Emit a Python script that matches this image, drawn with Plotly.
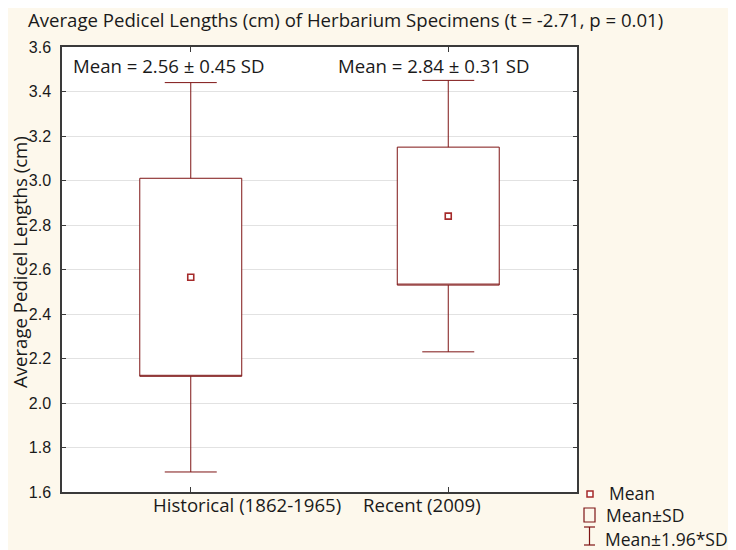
import plotly.graph_objects as go

# ---- data ----
categories = ["Historical (1862-1965)", "Recent (2009)"]
means = [2.565, 2.84]
sd_low = [2.12, 2.53]        # Mean - SD
sd_high = [3.01, 3.15]       # Mean + SD
whisk_low = [1.69, 2.23]     # Mean - 1.96*SD
whisk_high = [3.44, 3.45]    # Mean + 1.96*SD
summary_labels = ["Mean = 2.56 \u00b1 0.45 SD", "Mean = 2.84 \u00b1 0.31 SD"]
y_ticks = [1.6, 1.8, 2.0, 2.2, 2.4, 2.6, 2.8, 3.0, 3.2, 3.4, 3.6]
legend_labels = ["Mean", "Mean\u00b1SD", "Mean\u00b11.96*SD"]

# ---- layout geometry (screen pixels; page body adds an 8px offset) ----
OFF = 8
W, H = 736, 550
L, R, T, B = 62 - OFF, 577 - OFF, 47 - OFF, 492 - OFF
BG = "#FDF8EC"
RED = "#7E1414"
DARK = "#3A3A3A"
TXT_FONT = "'Open Sans', Lato, sans-serif"
TXT_SIZE = 18.6
LEG_SIZE = 17.5


def px(x):
    return (x - OFF - L) / (R - L)


def py(y):
    return (B - (y - OFF)) / (B - T)


fig = go.Figure()

fig.add_trace(go.Box(
    x=categories,
    q1=sd_low,
    median=sd_low,
    q3=sd_high,
    lowerfence=whisk_low,
    upperfence=whisk_high,
    width=0.396,
    whiskerwidth=0.51,
    fillcolor="white",
    line=dict(color=RED, width=1),
    boxpoints=False,
    showlegend=False,
))

fig.add_trace(go.Scatter(
    x=categories,
    y=means,
    mode="markers",
    marker=dict(symbol="square-open", size=6, color="#A52A2A", line=dict(width=1.6)),
    showlegend=False,
))

annotations = []
for lab, cx in zip(summary_labels, [169, 434]):
    annotations.append(dict(
        text=lab, xref="paper", yref="paper", x=px(cx), y=py(65),
        xanchor="center", yanchor="middle", showarrow=False,
        font=dict(family=TXT_FONT, size=TXT_SIZE, color="#1a1a1a")))
for lab, cx in zip(categories, [247, 422]):
    annotations.append(dict(
        text=lab, xref="paper", yref="paper", x=px(cx), y=py(505),
        xanchor="center", yanchor="middle", showarrow=False,
        font=dict(family=TXT_FONT, size=TXT_SIZE, color="#1a1a1a")))
annotations.append(dict(
    text="Average Pedicel Lengths (cm)", xref="paper", yref="paper",
    x=px(20), y=py(262), textangle=-90, xanchor="center", yanchor="middle",
    showarrow=False, font=dict(family=TXT_FONT, size=TXT_SIZE, color="#1a1a1a")))
for lab, (lx, ly) in zip(legend_labels, [(607, 493), (604, 515), (603, 539)]):
    annotations.append(dict(
        text=lab, xref="paper", yref="paper", x=px(lx), y=py(ly),
        xanchor="left", yanchor="middle", showarrow=False,
        font=dict(family=TXT_FONT, size=LEG_SIZE, color="#1a1a1a")))

shapes = [
    dict(type="rect", xref="paper", yref="paper", x0=px(587), x1=px(593), y0=py(491), y1=py(497),
         line=dict(color="#A52A2A", width=1.5), fillcolor="white"),
    dict(type="rect", xref="paper", yref="paper", x0=px(584), x1=px(595), y0=py(508), y1=py(522),
         line=dict(color=RED, width=1.2), fillcolor="rgba(0,0,0,0)"),
    dict(type="line", xref="paper", yref="paper", x0=px(589.5), x1=px(589.5), y0=py(527), y1=py(545),
         line=dict(color=RED, width=1.2)),
    dict(type="line", xref="paper", yref="paper", x0=px(584), x1=px(595), y0=py(527), y1=py(527),
         line=dict(color=RED, width=1.2)),
    dict(type="line", xref="paper", yref="paper", x0=px(584), x1=px(595), y0=py(545), y1=py(545),
         line=dict(color=RED, width=1.2)),
]

fig.update_layout(
    width=W, height=H,
    margin=dict(l=L, r=W - R, t=T, b=H - B, autoexpand=False),
    paper_bgcolor=BG,
    plot_bgcolor="white",
    showlegend=False,
    title=dict(
        text="Average Pedicel Lengths (cm) of Herbarium Specimens (t = -2.71, p = 0.01)",
        xref="container", yref="container", x=(28 - OFF) / W, xanchor="left",
        y=1 - (20 - OFF) / H, yanchor="middle",
        font=dict(family=TXT_FONT, size=TXT_SIZE, color="#1a1a1a")),
    annotations=annotations,
    shapes=shapes,
    xaxis=dict(
        type="category", range=[-0.5, 1.5],
        showticklabels=False, ticks="inside", ticklen=5, tickcolor=DARK, tickwidth=1,
        showline=True, linecolor=DARK, linewidth=1.5, mirror="ticks",
        showgrid=False, zeroline=False, fixedrange=True,
    ),
    yaxis=dict(
        range=[1.6, 3.6], tickvals=y_ticks, tickformat=".1f",
        ticks="inside", ticklen=4, tickcolor=DARK, tickwidth=1,
        showline=True, linecolor=DARK, linewidth=1.5, mirror="ticks",
        showgrid=True, gridcolor="#E2E2E2", gridwidth=1, zeroline=False,
        tickfont=dict(family="Liberation Sans, Arial, sans-serif", size=16, color="#1a1a1a"),
        ticklabelstandoff=6, fixedrange=True,
    ),
)

fig.write_html("out.html")
